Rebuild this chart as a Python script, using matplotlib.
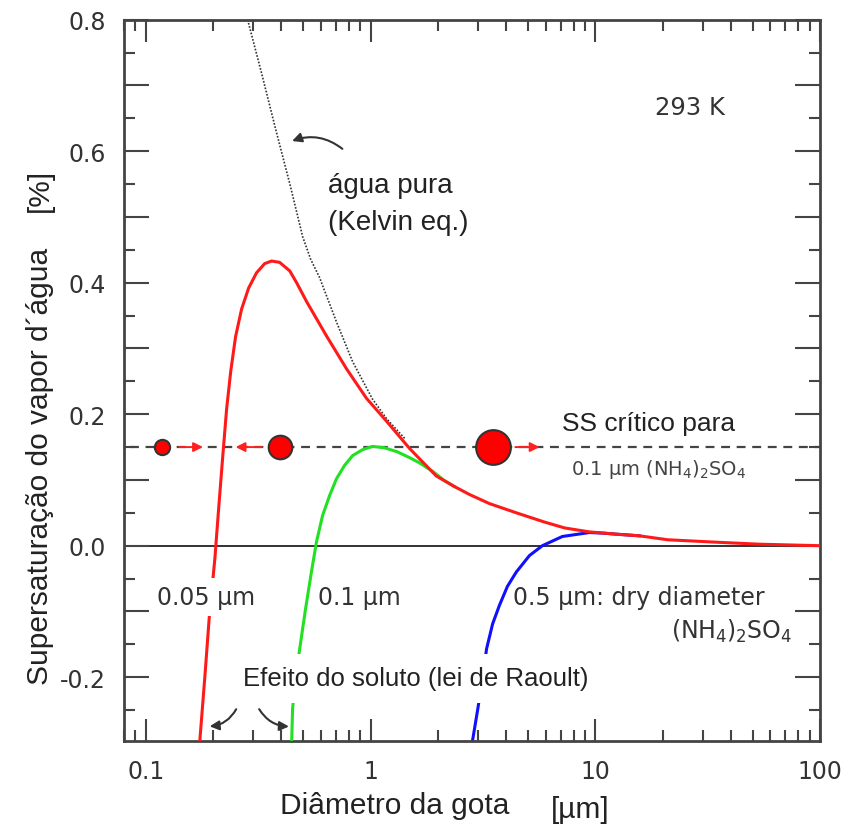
import matplotlib
matplotlib.use('Agg')
import matplotlib.pyplot as plt

plt.rcParams['mathtext.fontset'] = 'dejavusans'

# Kelvin curve (pure water), droplet diameter [um] vs supersaturation [%]
kelvin_d = [0.284, 0.328, 0.378, 0.437, 0.499, 0.541, 0.593, 0.706, 0.832, 1.02, 1.18, 1.42]
kelvin_s = [0.800, 0.718, 0.634, 0.551, 0.470, 0.436, 0.408, 0.340, 0.280, 0.223, 0.193, 0.163]

# Koehler curve, 0.05 um dry (NH4)2SO4
red_d = [0.174, 0.183, 0.192, 0.203, 0.211, 0.220, 0.229, 0.239, 0.251, 0.267, 0.287, 0.311,
         0.338, 0.363, 0.394, 0.437, 0.469, 0.520, 0.637, 0.782, 0.96, 1.18, 1.49, 1.96, 2.36, 2.75,
         3.38, 4.45, 5.93, 7.3, 9.4, 12.4, 15.7, 21.0, 34.5, 53.5, 99]
red_s = [-0.297, -0.202, -0.106, -0.020, 0.056, 0.135, 0.208, 0.266, 0.318, 0.360, 0.392, 0.415,
         0.429, 0.433, 0.431, 0.418, 0.400, 0.371, 0.319, 0.269, 0.224, 0.189, 0.148, 0.106, 0.090, 0.078,
         0.064, 0.050, 0.036, 0.027, 0.021, 0.0175, 0.015, 0.009, 0.0053, 0.0023, 0.0]

# 0.1 um dry
green_d = [0.446, 0.450, 0.464, 0.484, 0.514, 0.547, 0.575, 0.612, 0.657, 0.706, 0.766, 0.832,
           0.921, 1.02, 1.15, 1.31, 1.49, 1.65, 1.89, 2.13, 2.36]
green_s = [-0.297, -0.248, -0.202, -0.157, -0.096, -0.038, 0.006, 0.046, 0.076, 0.102, 0.122, 0.137,
           0.146, 0.151, 0.149, 0.143, 0.134, 0.126, 0.113, 0.099, 0.090]

# 0.5 um dry
blue_d = [2.84, 2.99, 3.15, 3.28, 3.49, 3.74, 4.06, 4.45, 5.09, 5.81, 7.13, 9.4, 10.96, 12.4, 15.7]
blue_s = [-0.297, -0.251, -0.202, -0.157, -0.119, -0.091, -0.062, -0.040, -0.015, 0.0, 0.014,
          0.020, 0.019, 0.0175, 0.015]

ss_crit = 0.15
drops_d = [0.118, 0.394, 3.49]
drops_size = [11, 17, 25]
arrows = [(0.137, 0.185), (0.338, 0.244), (4.28, 5.81)]

xticks = [0.1, 1, 10, 100]
xticklabels = ['0.1', '1', '10', '100']
yticks = [-0.2, -0.1, 0.0, 0.1, 0.2, 0.3, 0.4, 0.5, 0.6, 0.7, 0.8]
yticklabels = ['-0.2', '', '0.0', '', '0.2', '', '0.4', '', '0.6', '', '0.8']

arial = ['Liberation Sans', 'DejaVu Sans']
dv = ['DejaVu Sans']

fig = plt.figure(figsize=(8.43, 8.29), dpi=100)
ax = fig.add_axes([0.147, 0.105, 0.826, 0.870])
ax.set_xscale('log')
ax.set_xlim(0.08, 100)
ax.set_ylim(-0.297, 0.8)

ax.axhline(0, color='#222222', lw=1.3, zorder=1)
ax.plot([0.085, 100], [ss_crit, ss_crit], ls=(0, (4, 3)), color='#444444', lw=1.6, zorder=1)

ax.plot(kelvin_d, kelvin_s, ls=(0, (1, 1)), color='#333333', lw=1.2, zorder=2)
ax.plot(blue_d, blue_s, color='#1010ff', lw=2.2, zorder=2)
ax.plot(green_d, green_s, color='#22e022', lw=2.2, zorder=3)
ax.plot(red_d, red_s, color='#ff1a1a', lw=2.2, zorder=4)

for d, ms in zip(drops_d, drops_size):
    ax.plot([d], [ss_crit], 'o', ms=ms, mfc='#ff0000', mec='#333333', mew=1.5, zorder=6)
for x0, x1 in arrows:
    ax.annotate('', xy=(x1, ss_crit), xytext=(x0, ss_crit),
                arrowprops=dict(arrowstyle='-|>', color='#ff2020', lw=1.4, mutation_scale=14), zorder=5)

# texts
ax.text(26.2, 0.668, '293 K', family=dv, fontsize=17.5, color='#333333', ha='center', va='center')
ax.text(0.644, 0.548, 'água pura', family=arial, fontsize=20, color='#222222', va='center')
ax.text(0.644, 0.493, '(Kelvin eq.)', family=arial, fontsize=20, color='#222222', va='center')
ax.annotate('', xy=(0.436, 0.614), xytext=(0.766, 0.601),
            arrowprops=dict(arrowstyle='-|>', color='#333333', lw=1.5, mutation_scale=14,
                            connectionstyle='arc3,rad=0.3'))
ax.text(7.13, 0.186, 'SS crítico para', family=arial, fontsize=19, color='#222222', va='center')
ax.text(7.82, 0.117, r'0.1 µm (NH$_4$)$_2$SO$_4$', family=dv, fontsize=14, color='#444444', va='center')
ax.text(0.112, -0.078, '0.05 µm', family=dv, fontsize=17, color='#333333', va='center', zorder=8,
        bbox=dict(facecolor='white', edgecolor='none', boxstyle='square,pad=0.3'))
ax.text(0.581, -0.078, '0.1 µm', family=dv, fontsize=17, color='#333333', va='center')
ax.text(4.28, -0.078, '0.5 µm: dry diameter', family=dv, fontsize=17, color='#333333', va='center')
ax.text(75.1, -0.129, r'(NH$_4$)$_2$SO$_4$', family=dv, fontsize=17, color='#333333', va='center', ha='right')
ax.text(0.27, -0.202, 'Efeito do soluto (lei de Raoult)', family=arial, fontsize=18.5,
        color='#222222', va='center', zorder=8,
        bbox=dict(facecolor='white', edgecolor='none', boxstyle='square,pad=0.5'))
ax.annotate('', xy=(0.187, -0.275), xytext=(0.256, -0.245),
            arrowprops=dict(arrowstyle='-|>', color='#333333', lw=1.5, mutation_scale=14,
                            connectionstyle='arc3,rad=-0.3'), zorder=9)
ax.annotate('', xy=(0.446, -0.275), xytext=(0.315, -0.245),
            arrowprops=dict(arrowstyle='-|>', color='#333333', lw=1.5, mutation_scale=14,
                            connectionstyle='arc3,rad=0.3'), zorder=9)

# axes styling
for sp in ax.spines.values():
    sp.set_color('#444444')
    sp.set_linewidth(2)
ax.set_xticks(xticks)
ax.set_xticklabels(xticklabels)
ax.set_yticks(yticks)
ax.set_yticklabels(yticklabels)
ax.set_yticks([v / 100 for v in range(-25, 80, 10)], minor=True)
ax.tick_params(which='both', direction='in', top=True, right=True, color='#444444', width=1.5)
ax.tick_params(which='major', length=18, pad=13, labelsize=17, labelcolor='#333333')
ax.tick_params(axis='x', which='major', length=16)
ax.tick_params(which='minor', length=8)
for lab in ax.get_xticklabels() + ax.get_yticklabels():
    lab.set_family(dv)

fig.text(395 / 843, 1 - 806 / 829, 'Diâmetro da gota', family=arial, fontsize=21.5,
         color='#222222', ha='center', va='center')
fig.text(580 / 843, 1 - 810 / 829, '[µm]', family=arial, fontsize=21.5,
         color='#222222', ha='center', va='center')
fig.text(40 / 843, 1 - 466 / 829, 'Supersaturação do vapor d´água', family=arial, fontsize=21.5,
         color='#222222', ha='center', va='center', rotation=90)
fig.text(40 / 843, 1 - 190 / 829, '[%]', family=arial, fontsize=21.5,
         color='#222222', ha='center', va='center', rotation=90)

fig.savefig('out.png', dpi=100, facecolor='white')
